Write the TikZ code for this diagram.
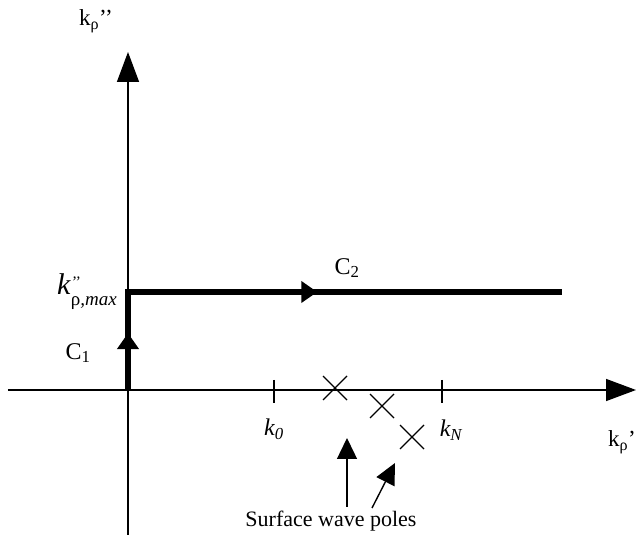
\documentclass[tikz,border=0pt]{standalone}
\usepackage{fontspec}
\setmainfont{Liberation Serif}
\usetikzlibrary{arrows.meta,decorations.markings,calc}
\tikzset{
    axisline/.style={line width=1.4bp,-{Triangle[length=30bp,width=22bp]}},
    contour/.style={line width=6bp,line join=miter},
    pointer/.style={line width=1.4bp,-{Triangle[length=21bp,width=20bp]}},
    pole/.style={line width=1.3bp},
    tick/.style={line width=1.3bp},
    lbl/.style={font=\fontsize{24bp}{28bp}\selectfont,inner sep=0pt},
}
\begin{document}
\begin{tikzpicture}[x=1bp,y=1bp]
    % fester Rahmen (Seitenverhaeltnis)
    \useasboundingbox (-128,-148) rectangle (510,390);
    % Achsen
    \coordinate (O) at (0,0);
    \coordinate (xstart) at (-120,0);
    \coordinate (xend) at (508,0);
    \coordinate (ystart) at (0,-145);
    \coordinate (yend) at (0,338);
    \draw[axisline] (xstart) -- (xend);
    \draw[axisline] (ystart) -- (yend);
    \node[lbl,font=\fontsize{23bp}{27bp}\selectfont] (kx) at (494,-52) {k\textsubscript{ρ}’};
    \node[lbl,font=\fontsize{23bp}{27bp}\selectfont] (ky) at (-32,369) {k\textsubscript{ρ}’’};
    % Striche auf der reellen Achse
    \coordinate (k0) at (146,0);
    \coordinate (kN) at (314,0);
    \draw[tick] ($(k0)+(0,10)$) -- ($(k0)+(0,-13)$);
    \draw[tick] ($(kN)+(0,10)$) -- ($(kN)+(0,-13)$);
    \node[lbl] (k0lbl) at (146,-39) {\textit{k\textsubscript{0}}};
    \node[lbl] (kNlbl) at (323,-40) {\textit{k\textsubscript{N}}};
    % Integrationsweg C1, C2
    \coordinate (cmax) at (0,98);
    \coordinate (cend) at (434,98);
    \draw[contour,postaction={decorate},
        decoration={markings,
            mark=at position 0.107 with {\arrow{Triangle[length=16bp,width=21bp]}},
            mark=at position 0.54 with {\arrow{Triangle[length=16bp,width=21bp]}}}]
        (O) -- (cmax) -- (cend);
    \node[lbl] (C1) at (-50,37) {C\textsubscript{1}};
    \node[lbl] (C2) at (219,122) {C\textsubscript{2}};
    \node[inner sep=0pt,anchor=base west] (kmax) at (-71,95)
        {\fontsize{30bp}{34bp}\selectfont\textit{k}\rlap{\raisebox{7bp}{\fontsize{16bp}{18bp}\selectfont\textit{’’}}}\raisebox{-11bp}{\fontsize{19bp}{22bp}\selectfont ρ\textit{,max}}};
    % Pole
    \foreach \px/\py [count=\i] in {207/2, 254/-16, 284/-47}{
        \coordinate (p\i) at (\px,\py);
        \draw[pole] ($(p\i)+(-12,12)$) -- ($(p\i)+(12,-12)$);
        \draw[pole] ($(p\i)+(-12,-12)$) -- ($(p\i)+(12,12)$);
    }
    % Beschriftung der Pole
    \node[lbl,font=\fontsize{22bp}{26bp}\selectfont] (poles) at (203,-131) {Surface wave poles};
    \coordinate (a1s) at (219,-117);
    \coordinate (a1e) at (219,-48);
    \coordinate (a2s) at (244,-118);
    \coordinate (a2e) at (267,-73);
    \draw[pointer] (a1s) -- (a1e);
    \draw[pointer] (a2s) -- (a2e);
\end{tikzpicture}
\end{document}
